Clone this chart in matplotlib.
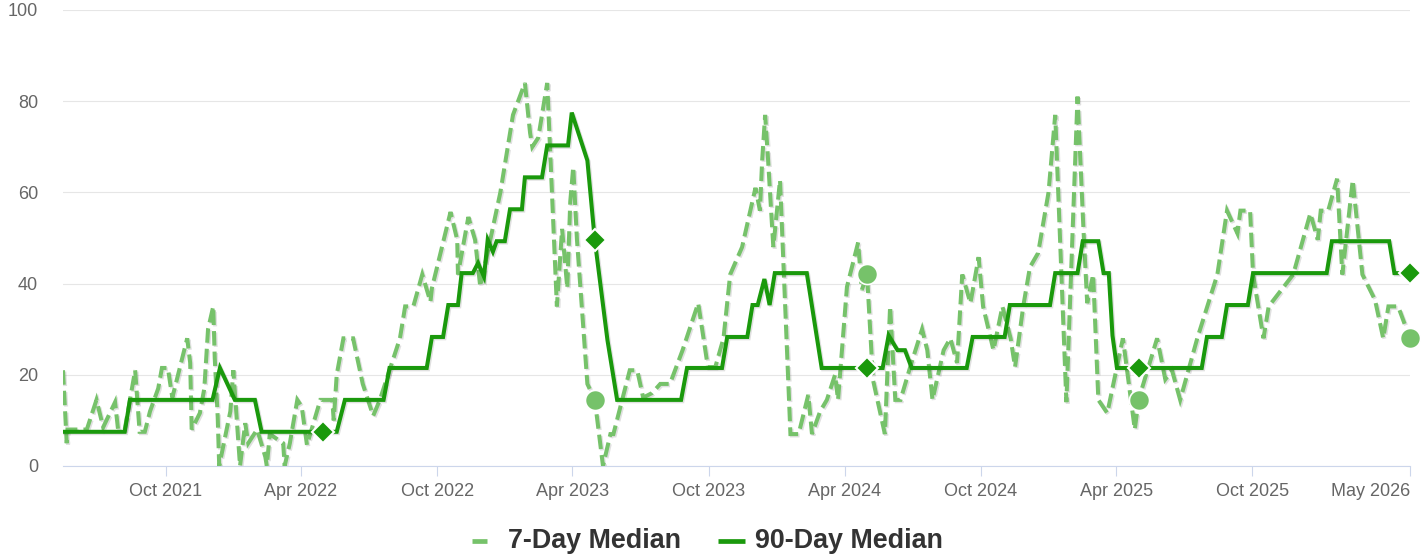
import matplotlib
matplotlib.use('Agg')
import matplotlib.pyplot as plt
import matplotlib.patheffects as pe
from matplotlib.lines import Line2D
import pandas as pd

plt.rcParams['font.family'] = ['Liberation Sans', 'DejaVu Sans']

# ---------------- data ----------------
dates_7day = [
    "2021-05-16", "2021-05-21", "2021-05-22", "2021-06-17", "2021-06-30", "2021-07-09", "2021-07-25",
    "2021-07-29", "2021-08-07", "2021-08-21", "2021-08-27", "2021-09-03", "2021-09-10", "2021-09-21",
    "2021-09-26", "2021-10-04", "2021-10-10", "2021-10-20", "2021-10-30", "2021-11-03", "2021-11-05",
    "2021-11-16", "2021-11-22", "2021-11-27", "2021-12-04", "2021-12-06", "2021-12-10", "2021-12-12",
    "2021-12-27", "2021-12-31", "2022-01-06", "2022-01-09", "2022-01-16", "2022-01-20", "2022-02-01",
    "2022-02-12", "2022-02-14", "2022-02-18", "2022-03-08", "2022-03-10", "2022-03-17", "2022-03-27",
    "2022-04-02", "2022-04-09", "2022-04-27", "2022-05-03", "2022-05-13", "2022-05-15", "2022-05-19",
    "2022-05-28", "2022-06-10", "2022-06-23", "2022-07-07", "2022-07-16", "2022-08-12", "2022-08-19",
    "2022-08-30", "2022-09-11", "2022-09-22", "2022-09-24", "2022-10-19", "2022-10-28", "2022-10-29",
    "2022-11-12", "2022-11-21", "2022-11-28", "2022-12-25", "2023-01-11", "2023-01-27", "2023-02-03",
    "2023-02-06", "2023-02-14", "2023-02-26", "2023-03-11", "2023-03-18", "2023-03-25", "2023-03-29",
    "2023-04-02", "2023-04-07", "2023-04-21", "2023-05-01", "2023-05-12", "2023-05-22", "2023-05-26",
    "2023-06-17", "2023-06-27", "2023-07-05", "2023-07-17", "2023-07-28", "2023-08-10", "2023-08-27",
    "2023-09-17", "2023-09-30", "2023-10-10", "2023-10-21", "2023-10-30", "2023-11-15", "2023-11-26",
    "2023-12-03", "2023-12-09", "2023-12-12", "2023-12-16", "2023-12-20", "2023-12-27", "2024-01-05",
    "2024-01-12", "2024-01-19", "2024-01-30", "2024-02-12", "2024-02-17", "2024-02-28", "2024-03-08",
    "2024-03-19", "2024-03-23", "2024-04-04", "2024-04-19", "2024-04-24", "2024-05-01", "2024-05-09",
    "2024-05-25", "2024-06-01", "2024-06-08", "2024-06-15", "2024-06-28", "2024-07-14", "2024-07-21",
    "2024-07-28", "2024-08-12", "2024-08-21", "2024-08-30", "2024-09-06", "2024-09-17", "2024-09-28",
    "2024-10-04", "2024-10-18", "2024-10-30", "2024-11-10", "2024-11-16", "2024-11-27", "2024-12-06",
    "2024-12-17", "2024-12-31", "2025-01-09", "2025-01-24", "2025-02-08", "2025-02-16", "2025-02-21",
    "2025-03-01", "2025-03-08", "2025-03-20", "2025-04-10", "2025-04-26", "2025-05-01", "2025-05-26",
    "2025-06-06", "2025-06-15", "2025-06-26", "2025-07-19", "2025-08-15", "2025-08-28", "2025-09-11",
    "2025-09-15", "2025-09-28", "2025-10-02", "2025-10-16", "2025-10-23", "2025-11-25", "2025-12-18",
    "2025-12-28", "2026-01-01", "2026-01-11", "2026-01-23", "2026-01-30", "2026-02-13", "2026-02-26",
    "2026-03-15", "2026-03-26", "2026-04-02", "2026-04-15", "2026-05-01",
]
values_7day = [
    21, 5, 8, 8, 14.5, 8.5, 14,
    8, 8, 21, 7.5, 7.5, 12, 17,
    21.5, 21.5, 15, 21.5, 28, 22.6, 8,
    11.6, 17, 30, 35, 23.7, 10.7, 0,
    12, 21, 7, 0, 9.4, 5, 8,
    2, 0, 7, 5, 0, 5, 14.5,
    13, 4.6, 14.5, 14.5, 14.5, 10, 20,
    28, 28, 18, 11, 14.5, 28, 35,
    35, 42, 36, 39, 55.7, 49.6, 42,
    54.6, 49.6, 39.3, 60, 77, 84, 73,
    70, 72, 84, 35, 52, 39, 58,
    65.6, 49.6, 18, 14.5, 0, 7, 7,
    21, 21, 15, 16, 18, 18, 25.4,
    35.7, 21.7, 21.7, 28, 42, 48, 56,
    61, 56, 67, 77, 67, 48, 62.7,
    35, 7, 7, 15.6, 7, 12, 14.5,
    20, 14.5, 39.3, 49, 38.6, 42, 18.9,
    7, 35, 14.5, 14.5, 21.7, 30, 25.4,
    14.5, 25.4, 28, 22.6, 42, 35.7, 45.8,
    35, 25.4, 35, 28, 21.7, 35, 43.6,
    46.7, 60, 77, 14, 81, 51.8, 35.7,
    42, 14.5, 11.6, 28, 8, 14.5, 28,
    19, 21, 14.5, 28, 42, 56, 51,
    56, 56, 42, 28, 35, 42, 55.4,
    49.6, 56, 56, 63, 42, 62.7, 42,
    36.4, 28, 35, 35, 28,
]

dates_90day = [
    "2021-05-16", "2021-08-07", "2021-08-14", "2021-12-03", "2021-12-13", "2022-01-02", "2022-01-29",
    "2022-02-07", "2022-05-19", "2022-05-30", "2022-07-21", "2022-07-29", "2022-09-17", "2022-09-24",
    "2022-10-09", "2022-10-16", "2022-10-29", "2022-11-03", "2022-11-18", "2022-11-25", "2022-12-03",
    "2022-12-08", "2022-12-15", "2022-12-20", "2022-12-31", "2023-01-07", "2023-01-23", "2023-01-27",
    "2023-02-19", "2023-02-26", "2023-03-26", "2023-03-31", "2023-04-21", "2023-05-01", "2023-05-18",
    "2023-05-31", "2023-08-25", "2023-09-02", "2023-10-19", "2023-10-26", "2023-11-22", "2023-11-29",
    "2023-12-06", "2023-12-15", "2023-12-22", "2023-12-29", "2024-02-10", "2024-03-01", "2024-05-22",
    "2024-05-30", "2024-06-11", "2024-06-21", "2024-06-30", "2024-09-12", "2024-09-20", "2024-11-02",
    "2024-11-09", "2025-01-02", "2025-01-09", "2025-02-08", "2025-02-15", "2025-03-08", "2025-03-15",
    "2025-03-22", "2025-03-27", "2025-04-02", "2025-07-25", "2025-08-01", "2025-08-21", "2025-08-28",
    "2025-09-25", "2025-10-02", "2026-01-09", "2026-01-16", "2026-04-03", "2026-04-10", "2026-05-01",
]
values_90day = [
    7.5, 7.5, 14.5, 14.5, 21.5, 14.5, 14.5,
    7.5, 7.5, 14.5, 14.5, 21.5, 21.5, 28.3,
    28.3, 35.3, 35.3, 42.3, 42.3, 44.5, 41.5,
    49.6, 47, 49.3, 49.3, 56.3, 56.3, 63.3,
    63.3, 70.3, 70.3, 77.5, 67, 49.5, 27.6,
    14.5, 14.5, 21.5, 21.5, 28.3, 28.3, 35.3,
    35.3, 41, 35.3, 42.3, 42.3, 21.5, 21.5,
    28.6, 25.4, 25.4, 21.5, 21.5, 28.3, 28.3,
    35.3, 35.3, 42.3, 42.3, 49.3, 49.3, 42.3,
    42.3, 28.6, 21.5, 21.5, 28.3, 28.3, 35.3,
    35.3, 42.3, 42.3, 49.3, 49.3, 42.3, 42.3,
]

# yearly highlighted points
marker90_dates = ["2022-05-01", "2023-05-01", "2024-05-01", "2025-05-01", "2026-05-01"]
marker90_values = [7.5, 49.5, 21.5, 21.5, 42.3]
marker7_dates = ["2023-05-01", "2024-05-01", "2025-05-01", "2026-05-01"]
marker7_values = [14.5, 42, 14.5, 28]

tick_dates = ["2021-10-01", "2022-04-01", "2022-10-01", "2023-04-01", "2023-10-01",
              "2024-04-01", "2024-10-01", "2025-04-01", "2025-10-01", "2026-05-01"]
tick_labels = ["Oct 2021", "Apr 2022", "Oct 2022", "Apr 2023", "Oct 2023",
               "Apr 2024", "Oct 2024", "Apr 2025", "Oct 2025", "May 2026"]
y_ticks = [0, 20, 40, 60, 80, 100]

series_names = ["7-Day Median", "90-Day Median"]

# ---------------- style ----------------
LIGHT = '#76c26a'
DARK = '#1a990c'
W, H = 1425, 557

fig = plt.figure(figsize=(W / 100, H / 100), dpi=100)
ax = fig.add_axes([63 / W, 1 - 466 / H, (1410 - 63) / W, (466 - 10) / H])

shadow = [pe.SimpleLineShadow(offset=(1, -1), shadow_color='black', alpha=0.12), pe.Normal()]

d7 = pd.to_datetime(dates_7day)
d90 = pd.to_datetime(dates_90day)

ax.plot(d7, values_7day, color=LIGHT, lw=2.9, dashes=(3.6, 1.5), dash_capstyle='butt',
        dash_joinstyle='miter', zorder=3, path_effects=shadow)
ax.plot(d90, values_90day, color=DARK, lw=2.9, solid_joinstyle='miter', zorder=4,
        path_effects=shadow)

ax.plot(pd.to_datetime(marker7_dates), marker7_values, ls='none', marker='o', ms=14.5,
        mfc=LIGHT, mec='white', mew=1.2, zorder=5, clip_on=False)
ax.plot(pd.to_datetime(marker90_dates), marker90_values, ls='none', marker='D', ms=11.5,
        mfc=DARK, mec='white', mew=1.5, zorder=6, clip_on=False)

ax.set_xlim(pd.Timestamp("2021-05-16"), pd.Timestamp("2026-05-01"))
ax.set_ylim(0, 100)
ax.set_yticks(y_ticks)
ax.set_xticks(pd.to_datetime(tick_dates))
ax.set_xticklabels(tick_labels)
ax.get_xticklabels()[-1].set_horizontalalignment('right')
ax.get_xticklabels()[-1].set_x(pd.Timestamp("2026-05-01").toordinal())

ax.set_axisbelow(True)
ax.grid(axis='y', color='#e6e6e6', lw=0.8)
ax.grid(axis='x', visible=False)
for s in ['top', 'right', 'left']:
    ax.spines[s].set_visible(False)
ax.spines['bottom'].set_color('#ccd6eb')
ax.spines['bottom'].set_linewidth(0.8)
ax.spines['bottom'].set_zorder(2)

ax.tick_params(axis='x', length=7.2, width=0.8, color='#ccd6eb', labelcolor='#666666',
               labelsize=13, pad=5)
ax.tick_params(axis='y', length=0, labelcolor='#666666', labelsize=13, pad=18)

# legend
ly = 1 - 541 / H
fig.add_artist(Line2D([472 / W, 487 / W], [ly, ly], color=LIGHT, lw=3.4, solid_capstyle='butt'))
fig.text(508 / W, ly, series_names[0], fontsize=19.4, fontweight='bold', color='#333333',
         va='center', ha='left')
fig.add_artist(Line2D([718 / W, 745 / W], [ly, ly], color=DARK, lw=3.4, solid_capstyle='butt'))
fig.text(755 / W, ly, series_names[1], fontsize=19.4, fontweight='bold', color='#333333',
         va='center', ha='left')

fig.savefig('out.png', dpi=100, facecolor='white')
